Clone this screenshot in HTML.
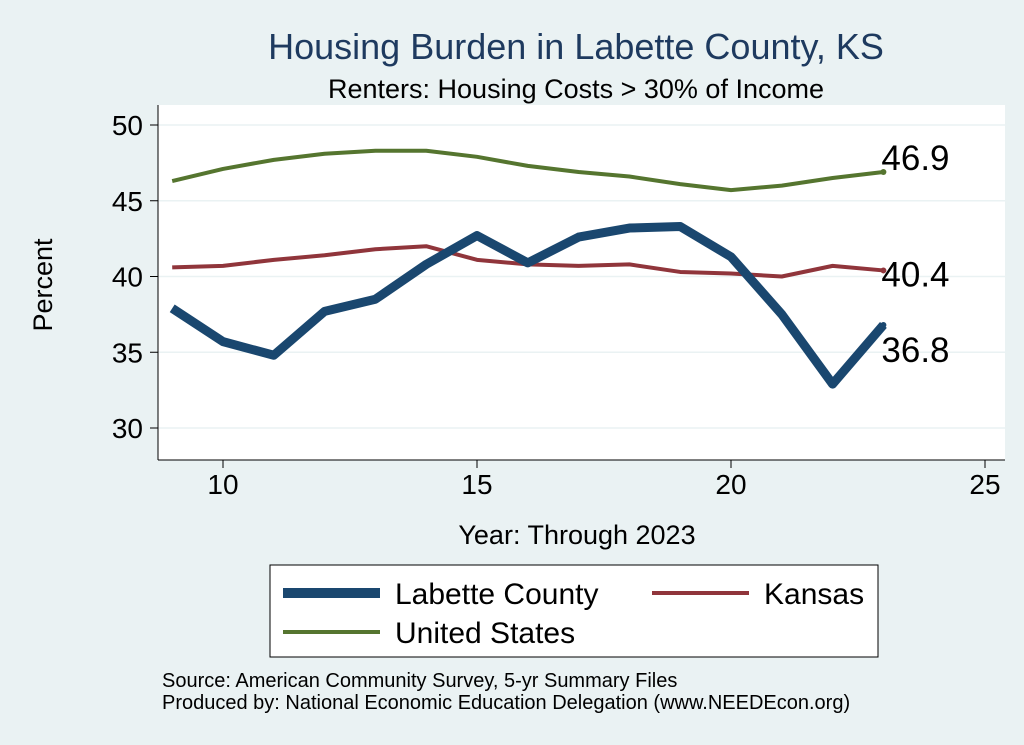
<!DOCTYPE html>
<html><head><meta charset="utf-8"><style>
body{margin:0;background:#eaf2f3;}
svg{display:block;font-family:"Liberation Sans",Arial,sans-serif;}
</style></head><body>
<svg id="chart" width="1024" height="745" viewBox="0 0 1024 745">
<rect x="0" y="0" width="1024" height="745" fill="#eaf2f3"/>
<text x="576" y="59" font-size="36" fill="#1e3a5f" text-anchor="middle">Housing Burden in Labette County, KS</text>
<text x="576" y="98" font-size="27" fill="#000" text-anchor="middle">Renters: Housing Costs &gt; 30% of Income</text>
<rect x="158" y="105" width="847" height="355" fill="#fff"/>
<g id="grid"></g><g id="axes"></g><g id="series"></g><g id="labels"></g>
<text x="52" y="285" font-size="27" text-anchor="middle" transform="rotate(-90 52 285)">Percent</text>
<text x="577" y="544" font-size="27" text-anchor="middle">Year: Through 2023</text>
<g>
<rect x="270" y="565" width="608" height="92" fill="#fff" stroke="#000" stroke-width="1"/>
<line x1="283" y1="593" x2="380" y2="593" stroke="#1a476f" stroke-width="10"/>
<text x="395" y="604" font-size="30">Labette County</text>
<line x1="652" y1="593" x2="749" y2="593" stroke="#90353b" stroke-width="4"/>
<text x="764" y="604" font-size="30">Kansas</text>
<line x1="283" y1="632" x2="380" y2="632" stroke="#55752f" stroke-width="4"/>
<text x="395" y="643" font-size="30">United States</text>
</g>
<text x="162" y="687" font-size="20">Source: American Community Survey, 5-yr Summary Files</text>
<text x="162" y="709" font-size="20">Produced by: National Economic Education Delegation (www.NEEDEcon.org)</text>
</svg>
<script>
const years=[9,10,11,12,13,14,15,16,17,18,19,20,21,22,23];
const labette=[37.9,35.7,34.8,37.7,38.5,40.8,42.7,40.9,42.6,43.2,43.3,41.3,37.5,32.9,36.8];
const kansas=[40.6,40.7,41.1,41.4,41.8,42.0,41.1,40.8,40.7,40.8,40.3,40.2,40.0,40.7,40.4];
const us=[46.3,47.1,47.7,48.1,48.3,48.3,47.9,47.3,46.9,46.6,46.1,45.7,46.0,46.5,46.9];
const yTicks=[30,35,40,45,50];
const xTicks=[10,15,20,25];
const NS="http://www.w3.org/2000/svg";
function xs(v){return 223+(v-10)*50.8;}
function ys(v){return 428-(v-30)*15.15;}
function mk(tag,attrs,parent){const e=document.createElementNS(NS,tag);for(const k in attrs)e.setAttribute(k,attrs[k]);document.getElementById(parent).appendChild(e);return e;}
yTicks.forEach(t=>{
 const g=mk('line',{x1:158,x2:1005,y1:ys(t),y2:ys(t),stroke:'#eaf2f3','stroke-width':1.5},'grid');
 
 
 const tk=mk('line',{x1:150,x2:158,y1:ys(t),y2:ys(t),stroke:'#000'},'axes');
 
 
 const l=mk('text',{x:143,y:ys(t)+10,'font-size':28,'text-anchor':'end'},'axes');l.textContent=t;
 
 
});
xTicks.forEach(t=>{
 const tk=mk('line',{x1:xs(t),x2:xs(t),y1:460,y2:468,stroke:'#000'},'axes');
 
 
 const l=mk('text',{x:xs(t),y:494,'font-size':28,'text-anchor':'middle'},'axes');l.textContent=t;
 
 
});
const ya=mk('line',{x1:158,x2:158,y1:105,y2:460,stroke:'#000'},'axes');


const xa=mk('line',{x1:158,x2:1005,y1:460,y2:460,stroke:'#000'},'axes');


function line(vals,color,w,name){
 const p=mk('polyline',{points:years.map((y,i)=>xs(y)+','+ys(vals[i])).join(' '),fill:'none',stroke:color,'stroke-width':w,'stroke-linejoin':'round'},'series');
 
 
 const last=vals[vals.length-1];
 const d=mk('circle',{cx:xs(years[years.length-1]),cy:ys(last),r:3,fill:color},'series');
 
 
}
line(us,'#55752f',4,'line-us');
line(kansas,'#90353b',4,'line-kansas');
line(labette,'#1a476f',9,'line-labette');
[[us,-15,'label-us'],[kansas,3,'label-kansas'],[labette,24,'label-labette']].forEach(([v,dy,n])=>{
 const val=v[v.length-1];
 const t=mk('text',{x:xs(23)-2,y:ys(val)+13+dy,'font-size':35},'labels');t.textContent=val.toFixed(1);
 
 
});
</script>
</body></html>
